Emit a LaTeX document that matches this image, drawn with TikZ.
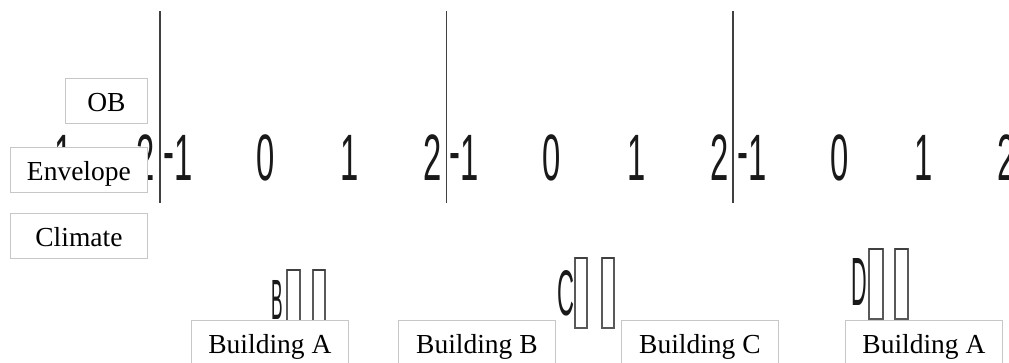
\documentclass[tikz,border=0pt]{standalone}
\usepackage{fontspec}
\setmainfont{Liberation Serif}
\newfontfamily\digfam{Liberation Sans}
\usepackage{graphicx}
\newcommand{\cond}[1]{\scalebox{0.5}[1]{#1}}
\begin{document}
\begin{tikzpicture}[x=1pt,y=-1pt,
  lbl/.style={draw=black!22, fill=white, line width=0.8pt, inner sep=0pt,
    minimum height=45pt, text height=22pt, text depth=1pt, anchor=north west,
    font=\fontsize{27.5pt}{33pt}\selectfont},
  dig/.style={inner sep=0pt, anchor=base, text=black!90,
    font=\digfam\fontsize{65.6pt}{70pt}\selectfont},
  let/.style={inner sep=0pt, anchor=base west, text=black!90, font=\digfam},
  sepline/.style={draw=black!75, line width=1.6pt},
  tofu/.style={draw=black!65, line width=1.1pt, fill=white},
  tofutop/.style={draw=black!75, line width=2.4pt}]
\clip (0,0) rectangle (1009,362);
\fill[white] (0,0) rectangle (1009,362);

% partly hidden numbers of the leftmost panel
\node[dig] (o0) at (63.5,180) {\cond{1}};
\node[dig] (w0) at (145.5,180) {\cond{2}};

% number rows
\foreach \i/\x in {1/160,2/446.5,3/734}{
  \node[dig] (m\i) at (\x+18,180) {\cond{\raisebox{7pt}{-}1}};
  \node[dig] (z\i) at (\x+105.5,180) {\cond{0}};
  \node[dig] (o\i) at (\x+190,180) {\cond{1}};
  \node[dig] (w\i) at (\x+273,180) {\cond{2}};
}

% separators
\foreach \x [count=\k] in {160,446.5,733}{
  \coordinate (t\k) at (\x,11);
  \coordinate (b\k) at (\x,203);
  \draw[sepline] (t\k) -- (b\k);
}

% letters with missing-glyph boxes
\node[let] (lb) at (271.7,319) {\resizebox{11.5pt}{39pt}{B}};
\draw[tofu] (287,270) rectangle (300,324);
\draw[tofutop] (287,270) -- (300,270);
\draw[tofu] (313,270) rectangle (325,324);
\draw[tofutop] (313,270) -- (325,270);

\node[let] (lc) at (556.8,315) {\resizebox{17pt}{45pt}{C}};
\draw[tofu] (575,258) rectangle (587,328);
\draw[tofutop] (575,258) -- (587,258);
\draw[tofu] (602,258) rectangle (614,328);
\draw[tofutop] (602,258) -- (614,258);

\node[let] (ld) at (851.3,305) {\resizebox{15.6pt}{47pt}{D}};
\draw[tofu] (869,249) rectangle (883,319);
\draw[tofutop] (869,249) -- (883,249);
\draw[tofu] (895,249) rectangle (908,319);
\draw[tofutop] (895,249) -- (908,249);

% label boxes
\node[lbl, minimum width=82pt] (ob) at (65,78) {OB};
\node[lbl, minimum width=137pt] (env) at (10,147) {Envelope};
\node[lbl, minimum width=137pt] (cli) at (10,213) {Climate};
\node[lbl, minimum width=157pt] (ba) at (191,320) {Building A};
\node[lbl, minimum width=157pt] (bb) at (398,320) {Building B};
\node[lbl, minimum width=157pt] (bc) at (621,320) {Building C};
\node[lbl, minimum width=157pt] (bd) at (845,320) {Building A};
\end{tikzpicture}
\end{document}
